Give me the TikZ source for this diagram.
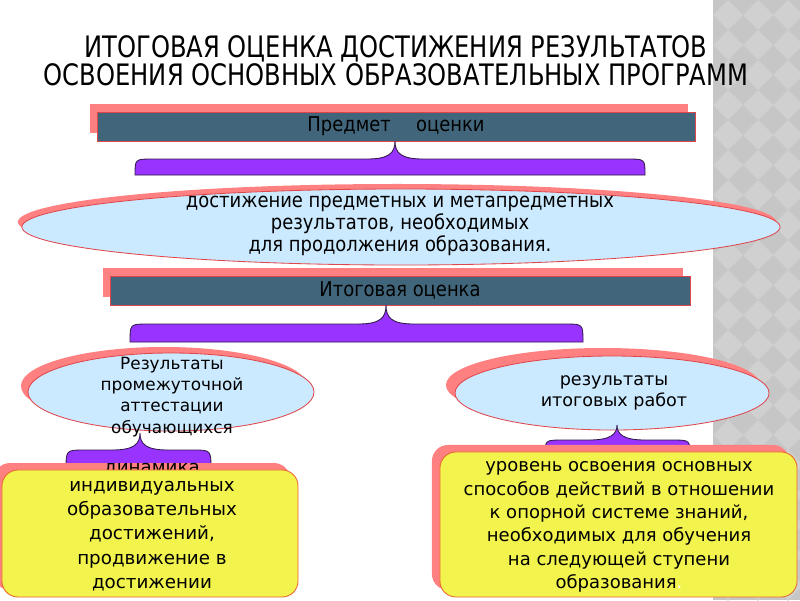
\documentclass[tikz,border=0pt]{standalone}
\usepackage{fontspec}
\setmainfont{DejaVu Sans}
\newfontfamily\narrowfont[FakeStretch=0.88]{DejaVu Sans}
\newfontfamily\headfont[FakeStretch=0.82]{DejaVu Sans}
\usetikzlibrary{positioning,shapes.geometric,shadows}

\definecolor{barblue}{HTML}{41667B}
\definecolor{shadowred}{HTML}{FF8080}
\definecolor{edgered}{HTML}{E0474C}
\definecolor{bracepurple}{HTML}{9933FF}
\definecolor{braceedge}{HTML}{2E1A47}
\definecolor{ellblue}{HTML}{CCEAFF}
\definecolor{boxyellow}{HTML}{F3F34E}
\definecolor{boxedge}{HTML}{E8662E}
\definecolor{stripgray}{HTML}{C6C6C6}
\definecolor{stripdiamond}{HTML}{D0D0D0}

% filled brace: left, right, tip x, tip y, shoulder y, bottom y
\newcommand{\bracefill}[6]{%
  \draw[bracestyle] (#1,#6) .. controls (#1,#5) .. (#1+18,#5) -- (#3-28,#5)
    .. controls (#3-6,#5) and (#3,#5-6) .. (#3,#4)
    .. controls (#3,#5-6) and (#3+6,#5) .. (#3+28,#5) -- (#2-18,#5)
    .. controls (#2,#5) .. (#2,#6) -- cycle;}

\begin{document}
\begin{tikzpicture}[
  x=0.025cm, y=-0.025cm,
  title/.style={align=center, font=\headfont\fontsize{21pt}{19.8pt}\selectfont},
  bar/.style={rectangle, draw=edgered, line width=0.5pt, fill=barblue, minimum height=0.725cm, inner sep=0pt,
    general shadow={fill=shadowred, shadow xshift=-1.75mm, shadow yshift=2mm}},
  bartext/.style={font=\narrowfont\fontsize{14.5pt}{15.6pt}\selectfont},
  oval/.style={ellipse, draw=edgered, line width=0.6pt, fill=ellblue, inner sep=0pt},
  yellowbox/.style={rectangle, rounded corners=0.4cm, draw=boxedge, line width=0.6pt, fill=boxyellow, inner sep=0pt},
  bracestyle/.style={fill=bracepurple, draw=braceedge, line width=0.6pt},
  bigtext/.style={align=center, font=\narrowfont\fontsize{14.5pt}{15.6pt}\selectfont},
  smalltext/.style={align=center, font=\fontsize{12pt}{15pt}\selectfont},
  boxtext/.style={align=center, font=\fontsize{13pt}{17.2pt}\selectfont}
]
\useasboundingbox (0,0) rectangle (800,600);
\fill[white] (0,0) rectangle (800,600);

% grey strip on the right
\begin{scope}
  \clip (713,0) rectangle (800,600);
  \fill[stripgray] (713,0) rectangle (800,600);
  \foreach \i in {0,...,3}
    \foreach \j in {0,...,20}
      \fill[stripdiamond] (728+30*\i,30*\j) -- ++(15,15) -- ++(-15,15) -- ++(-15,-15) -- cycle;
\end{scope}

\node[title] (head) at (396,61) {ИТОГОВАЯ ОЦЕНКА ДОСТИЖЕНИЯ РЕЗУЛЬТАТОВ\\ОСВОЕНИЯ ОСНОВНЫХ ОБРАЗОВАТЕЛЬНЫХ ПРОГРАММ};

% subject of assessment
\node[bar, minimum width=14.95cm] (subject) at (396,126.5) {};
\node[bartext] (subjecttext) at (subject.center) {Предмет\hspace{18pt}оценки};
\bracefill{135}{645}{395}{141}{159}{175}

\node[oval, minimum width=18.95cm, minimum height=1.9cm,
  general shadow={fill=shadowred, shadow xshift=-1mm, shadow yshift=1.25mm}] (goal) at (401,227) {};
\node[bigtext] (goaltext) at (400,226) {достижение предметных и метапредметных\\результатов, необходимых\\для продолжения образования.};

% final assessment
\node[bar, minimum width=14.5cm] (final) at (400,290.5) {};
\node[bartext] (finaltext) at (final.center) {Итоговая оценка};
\bracefill{130}{583}{386}{305}{324}{342}

\node[oval, minimum width=7.15cm, minimum height=1.95cm,
  general shadow={fill=shadowred, shadow xshift=-1.75mm, shadow yshift=1.5mm}] (interim) at (171,392) {};
\node[smalltext] (interimtext) at (172,397) {Результаты\\промежуточной\\аттестации\\обучающихся};

\node[oval, minimum width=7.85cm, minimum height=1.85cm,
  general shadow={fill=shadowred, shadow xshift=-2.25mm, shadow yshift=2mm}] (works) at (612,393) {};
\node[smalltext, font=\fontsize{12.5pt}{14.5pt}\selectfont] (workstext) at (614,393) {результаты\\итоговых работ};

\bracefill{66}{211}{140}{433}{450}{470}
\bracefill{545}{690}{617}{425}{440}{456}

% left box: its shadow, the first line, then the box over it
\fill[shadowred, rounded corners=0.4cm] (-6,463) rectangle (290,590);
\node[boxtext] (dynfirst) at (152,470) {динамика};
\node[yellowbox, minimum width=7.4cm, minimum height=3.175cm] (dynamics) at (150,533.5) {};
\node[boxtext] (dynamicstext) at (152,536) {индивидуальных\\образовательных\\достижений,\\продвижение в\\достижении};

% right box
\node[yellowbox, minimum width=8.925cm, minimum height=3.625cm,
  general shadow={fill=shadowred, shadow xshift=-2mm, shadow yshift=1.75mm}] (level) at (618.5,524.5) {};
\node[boxtext, font=\fontsize{12.8pt}{16.6pt}\selectfont] (leveltext) at (619,527) {уровень освоения основных\\способов действий в отношении\\к опорной системе знаний,\\необходимых для обучения\\на следующей ступени\\образования{\color{white}.}};
\end{tikzpicture}
\end{document}
